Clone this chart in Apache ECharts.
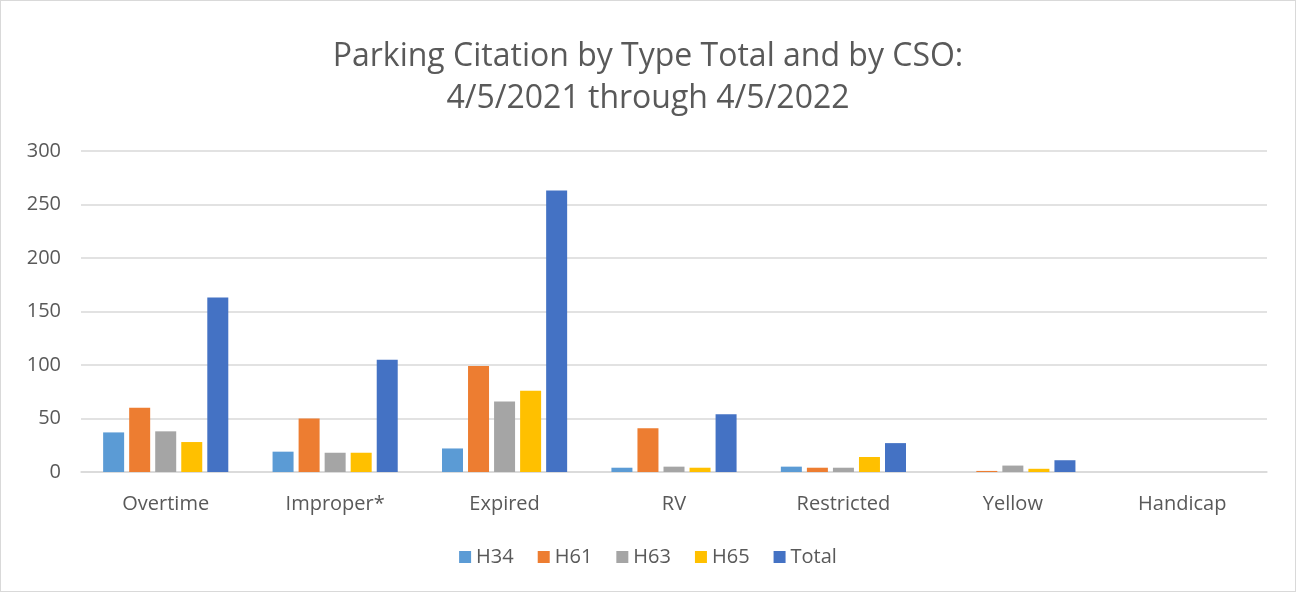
<!DOCTYPE html>
<html>
<head>
<meta charset="utf-8">
<script src="https://cdn.jsdelivr.net/npm/echarts@6/dist/echarts.min.js"></script>
<style>
  html, body { margin: 0; padding: 0; background: #fff; }
  #chart { width: 1296px; height: 592px; box-sizing: border-box; border: 1px solid #d9d9d9; }
</style>
</head>
<body>
<div id="chart"></div>
<script>
  // data
  var categories = ['Overtime', 'Improper*', 'Expired', 'RV', 'Restricted', 'Yellow', 'Handicap'];
  var h34 = [37, 19, 22, 4, 5, 0, 0];
  var h61 = [60, 50, 99, 41, 4, 1, 0];
  var h63 = [38, 18, 66, 5, 4, 6, 0];
  var h65 = [28, 18, 76, 4, 14, 3, 0];
  var total = [163, 105, 263, 54, 27, 11, 0];

  var txt = '#595959';
  var fontFam = '"Open Sans", sans-serif';

  function bar(name, data, color) {
    return {
      name: name,
      type: 'bar',
      data: data,
      barWidth: 21,
      barGap: '24%',
      itemStyle: { color: color },
      emphasis: { disabled: true }
    };
  }

  var myChart = echarts.init(document.getElementById('chart'));
  var option = {
    animation: false,
    title: {
      text: 'Parking Citation by Type Total and by CSO:\n4/5/2021 through 4/5/2022',
      left: 'center',
      top: 30,
      textStyle: {
        color: txt,
        fontSize: 32,
        fontWeight: 'normal',
        fontFamily: fontFam,
        lineHeight: 42
      }
    },
    legend: {
      bottom: 19,
      left: 'center',
      itemWidth: 12,
      itemHeight: 12,
      itemGap: 24,
      icon: 'rect',
      textStyle: { color: txt, fontSize: 20, fontFamily: fontFam }
    },
    grid: { left: 80, right: 28, top: 150, bottom: 119, containLabel: false },
    xAxis: {
      type: 'category',
      data: categories,
      axisLine: { lineStyle: { color: '#d9d9d9', width: 1.5 } },
      axisTick: { show: false },
      axisLabel: { color: txt, fontSize: 20, fontFamily: fontFam, margin: 22 }
    },
    yAxis: {
      type: 'value',
      min: 0,
      max: 300,
      interval: 50,
      axisLine: { show: false },
      axisTick: { show: false },
      axisLabel: { color: txt, fontSize: 20, fontFamily: fontFam, margin: 20 },
      splitLine: { lineStyle: { color: '#d9d9d9', width: 1.5 } }
    },
    series: [
      bar('H34', h34, '#5B9BD5'),
      bar('H61', h61, '#ED7D31'),
      bar('H63', h63, '#A5A5A5'),
      bar('H65', h65, '#FFC000'),
      bar('Total', total, '#4472C4')
    ]
  };
  myChart.setOption(option);
</script>
</body>
</html>
